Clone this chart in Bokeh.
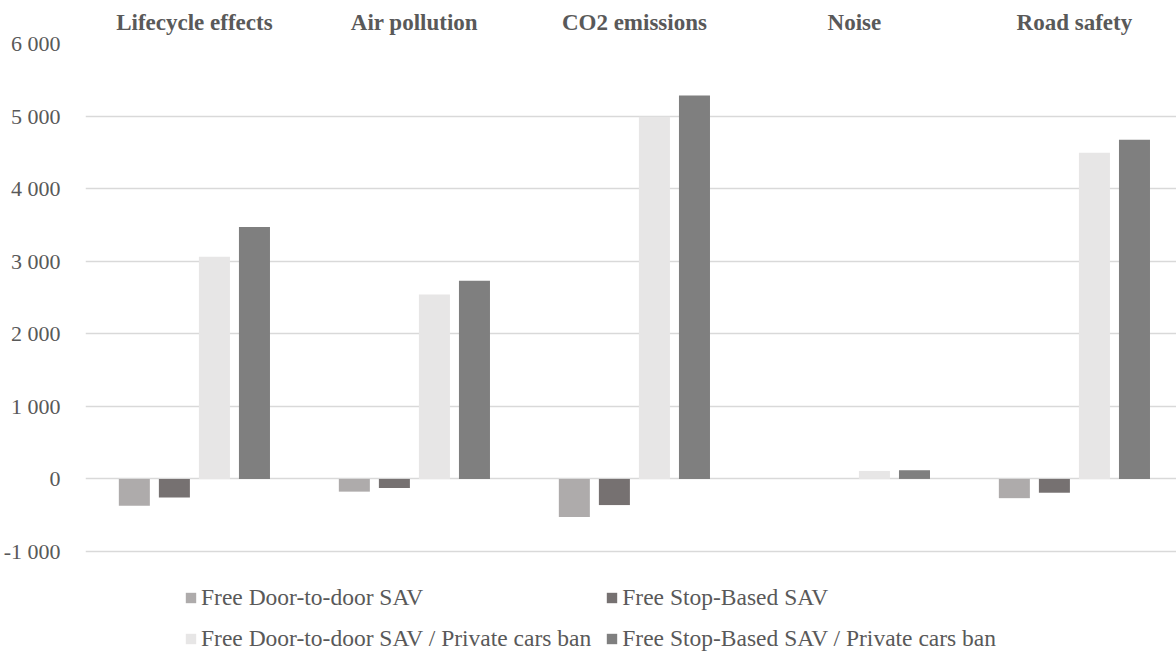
from bokeh.plotting import figure
from bokeh.models import Range1d, FixedTicker, Legend, LegendItem, ColumnDataSource
from bokeh.embed import file_html
from bokeh.resources import INLINE
import numpy as np

categories = ["Lifecycle effects", "Air pollution", "CO2 emissions", "Noise", "Road safety"]
series_names = [
    "Free Door-to-door SAV",
    "Free Stop-Based SAV",
    "Free Door-to-door SAV / Private cars ban",
    "Free Stop-Based SAV / Private cars ban",
]
door_to_door = [-370, -175, -525, 0, -265]
stop_based = [-255, -125, -360, 0, -190]
door_to_door_ban = [3060, 2540, 4990, 110, 4495]
stop_based_ban = [3470, 2730, 5285, 120, 4675]
series_values = [door_to_door, stop_based, door_to_door_ban, stop_based_ban]
series_colors = ["#AEABAB", "#767171", "#E7E6E6", "#7F7F7F"]
y_ticks = [-1000, 0, 1000, 2000, 3000, 4000, 5000, 6000]
y_tick_labels = ["-1 000", "0", "1 000", "2 000", "3 000", "4 000", "5 000", "6 000"]

FONT = "Liberation Serif"
TXT = "#595959"

p = figure(width=1176, height=654, output_backend="svg", toolbar_location=None,
           x_range=Range1d(-0.495, 4.464), y_range=Range1d(-2419, 6000),
           x_axis_location="above", min_border_left=85, min_border_right=0,
           min_border_top=43, min_border_bottom=0)
p.outline_line_color = None
p.background_fill_color = "white"
p.border_fill_color = "white"

xa = p.xaxis[0]
xa.ticker = FixedTicker(ticks=list(range(len(categories))))
xa.major_label_overrides = {i: c for i, c in enumerate(categories)}
xa.major_label_text_font = FONT
xa.major_label_text_font_size = "23px"
xa.major_label_text_font_style = "bold"
xa.major_label_text_color = TXT
xa.axis_line_color = None
xa.major_tick_line_color = None
xa.minor_tick_line_color = None
xa.major_label_standoff = 3

ya = p.yaxis[0]
ya.ticker = FixedTicker(ticks=y_ticks)
ya.major_label_overrides = {t: l for t, l in zip(y_ticks, y_tick_labels)}
ya.major_label_text_font = FONT
ya.major_label_text_font_size = "22px"
ya.major_label_text_color = TXT
ya.axis_line_color = None
ya.major_tick_line_color = None
ya.minor_tick_line_color = None
ya.major_label_standoff = 19

p.xgrid.grid_line_color = None
p.ygrid.grid_line_color = "#D9D9D9"
p.ygrid.grid_line_width = 1.5

offsets = [-0.273, -0.091, 0.091, 0.273]
bar_w = 0.141
x_idx = np.arange(len(categories))
items = []
for name, vals, col, off in zip(series_names, series_values, series_colors, offsets):
    src = ColumnDataSource(dict(x=x_idx + off, top=vals))
    r = p.vbar(x="x", top="top", bottom=0, width=bar_w, source=src,
               fill_color=col, line_color=None)
    items.append(LegendItem(label=name, renderers=[r]))

legend = Legend(items=items, location=(99, 2), orientation="horizontal", ncols=2,
                label_text_font=FONT, label_text_font_size="23.5px", label_text_color=TXT,
                glyph_width=13, glyph_height=13, label_standoff=4, label_height=26,
                spacing=14, padding=0, margin=0, border_line_color=None,
                background_fill_alpha=0)
p.add_layout(legend, "center")

open("out.html", "w").write(file_html(p, INLINE))
